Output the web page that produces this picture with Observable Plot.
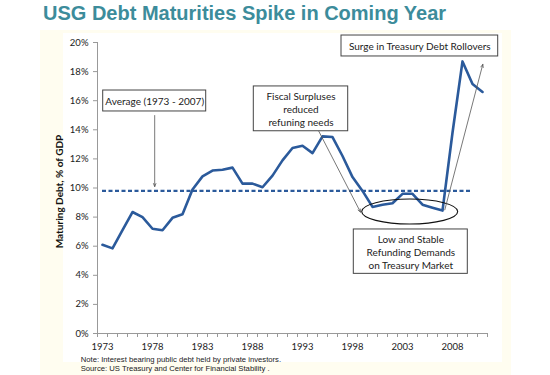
<!DOCTYPE html>
<html><head><meta charset="utf-8">
<script src="https://cdn.jsdelivr.net/npm/d3@7"></script>
<script src="https://cdn.jsdelivr.net/npm/@observablehq/plot@0.6"></script>
<style>
body{margin:0;background:#fff;}
#wrap{position:relative;width:550px;height:375px;overflow:hidden;}
.cream{position:absolute;left:40px;top:30px;width:471px;height:345px;background:#fffdf0;}
.inner{position:absolute;left:63px;top:33px;width:439px;height:329px;background:#fff;}
#title{position:absolute;left:43px;top:3.4px;font:bold 20px Arial,"Liberation Sans",sans-serif;line-height:20px;color:#3c8c9b;white-space:nowrap;}
#note{position:absolute;left:80.7px;top:356.2px;font:7.7px Arial,"Liberation Sans",sans-serif;line-height:8.8px;color:#222;white-space:nowrap;}
#chart{position:absolute;left:0;top:0;}
</style>
</head><body>
<div id="wrap">
  <div class="cream"></div>
  <div class="inner"></div>
  <div id="title">USG Debt Maturities Spike in Coming Year</div>
  <div id="chart"></div>
  <div id="note">Note: Interest bearing public debt held by private investors.<br>Source: US Treasury and Center for Financial Stability .</div>
</div>
<script>
// ---- data ----
const years = [1973,1974,1975,1976,1977,1978,1979,1980,1981,1982,1983,1984,1985,1986,1987,1988,1989,1990,1991,1992,1993,1994,1995,1996,1997,1998,1999,2000,2001,2002,2003,2004,2005,2006,2007,2008,2009,2010,2011];
const maturingDebt = [6.1,5.85,7.1,8.35,8.0,7.2,7.1,7.95,8.2,9.9,10.8,11.2,11.25,11.4,10.3,10.3,10.05,10.85,11.9,12.75,12.9,12.4,13.55,13.5,12.2,10.75,9.8,8.7,8.85,8.95,9.6,9.6,8.85,8.65,8.45,13.8,18.7,17.15,16.6];
const averageValue = 9.8;
const averageSpan = [1973, 2010];
const xTickLabels = [1973,1978,1983,1988,1993,1998,2003,2008];
const yTicks = [0,2,4,6,8,10,12,14,16,18,20];
const yLabel = "Maturing Debt, % of GDP";

// annotation boxes (data units: year, %)
const boxes = [
  {x1:1973.07, x2:1983.37, y1:15.26, y2:16.70, cx:1978.22, cy:15.98, text:"Average (1973 - 2007)"},
  {x1:1988.13, x2:1997.57, y1:13.90, y2:16.98, cx:1992.85, cy:15.44, text:"Fiscal Surpluses\nreduced\nrefuning needs"},
  {x1:1996.90, x2:2012.57, y1:19.04, y2:20.48, cx:2004.73, cy:19.76, text:"Surge in Treasury Debt Rollovers"},
  {x1:1998.13, x2:2009.53, y1:4.10, y2:7.15, cx:2003.83, cy:5.62, text:"Low and Stable\nRefunding Demands\non Treasury Market"}
];
const arrows = [
  {x1:1978.22, y1:14.98, x2:1978.22, y2:10.10},
  {x1:1994.63, y1:13.90, x2:1998.80, y2:8.34},
  {x1:2007.23, y1:8.50, x2:2011.03, y2:18.50}
];
const ellipses = [{cx:2003.77, cy:8.35, rx:4.8, ry:0.86}];

const data = years.map((y,i)=>({year:y, value:maturingDebt[i]}));
const xDomain = [years[0]-0.5, years[years.length-1]+0.5];
const boundaries = years.map(y=>y-0.5).concat([xDomain[1]]);
const blue = "#2b5a9b";

const chart = Plot.plot({
  width:550, height:375,
  marginLeft:97, marginRight:63, marginTop:42, marginBottom:42,
  x:{domain:xDomain, label:null},
  y:{domain:[0,20], label:null},
  style:{background:"transparent", fontFamily:"Lato, sans-serif", fontSize:"9.5px", color:"#222", overflow:"visible"},
  marks:[
    Plot.ruleX([xDomain[0]], {stroke:"#999", strokeWidth:1}),
    Plot.ruleY([0], {stroke:"#999", strokeWidth:1}),
    Plot.axisY(yTicks, {tickFormat:d=>d+"%", tickSize:4, tickPadding:5, stroke:"#999", fill:"#222", label:null}),
    Plot.axisX(boundaries, {tickSize:4, tickFormat:()=>"", stroke:"#999", label:null}),
    Plot.axisX(xTickLabels, {tickSize:0, tickPadding:9.5, tickFormat:d=>String(d), fill:"#222", label:null}),
    Plot.ruleY([averageValue], {x1:averageSpan[0], x2:averageSpan[1], stroke:blue, strokeWidth:2.3, strokeDasharray:"4,2.5"}),
    Plot.line(data, {x:"year", y:"value", stroke:blue, strokeWidth:2.6, strokeLinejoin:"round"}),
    Plot.dot(ellipses, {x:"cx", y:"cy", render(index, scales) {
      const g = d3.create("svg:g");
      for (const i of index) {
        const e = ellipses[i];
        g.append("ellipse")
          .attr("cx", scales.x(e.cx)).attr("cy", scales.y(e.cy))
          .attr("rx", Math.abs(scales.x(e.cx+e.rx)-scales.x(e.cx)))
          .attr("ry", Math.abs(scales.y(e.cy+e.ry)-scales.y(e.cy)))
          .attr("fill","none").attr("stroke","#111").attr("stroke-width",1.1);
      }
      return g.node();
    }}),
    Plot.arrow(arrows, {x1:"x1", y1:"y1", x2:"x2", y2:"y2", stroke:"#555", strokeWidth:0.8, headLength:6, headAngle:45}),
    Plot.rect(boxes, {x1:"x1", x2:"x2", y1:"y1", y2:"y2", fill:"white", stroke:"#444", strokeWidth:1}),
    Plot.text(boxes, {x:"cx", y:"cy", text:"text", fontFamily:"Lato, sans-serif", fontSize:10, fill:"#222", lineHeight:1.3}),
    Plot.text([yLabel], {frameAnchor:"left", textAnchor:"middle", dx:-38, dy:3.5, rotate:-90, fontWeight:"bold", fontSize:10, fill:"#111"})
  ]
});
document.getElementById("chart").appendChild(chart);
</script>
</body></html>
